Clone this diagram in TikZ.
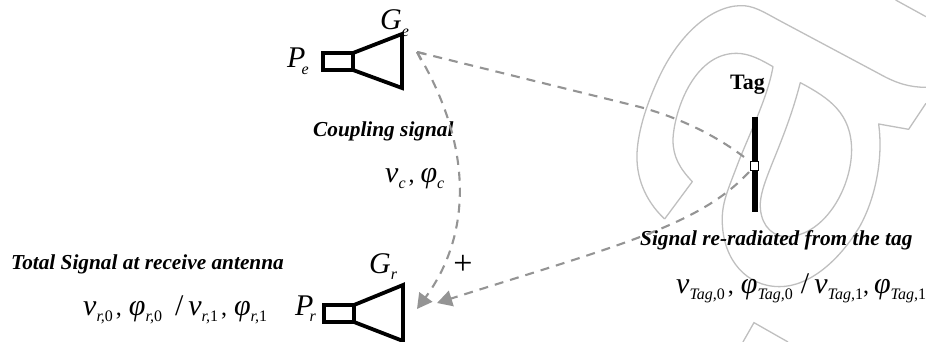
\documentclass[tikz,border=0pt]{standalone}
\usepackage{fontspec}
\usepackage{amsmath}
\setmainfont{Liberation Serif}
\usetikzlibrary{arrows.meta}
\tikzset{
  ant/.style={line width=3.8pt,draw=black,miter limit=10},
  sig/.style={draw=black!42,line width=2.1pt,dash pattern=on 9pt off 7pt},
  fillhead/.style={-{Triangle[length=15pt,width=16pt,fill=black!42,color=black!42]}},
  wm/.style={draw=black!25,line width=1.3pt},
  sym/.style={inner sep=0pt,font=\fontsize{30}{30}\selectfont\itshape,anchor=base west},
  capt/.style={inner sep=0pt,font=\fontsize{21.3}{21.3}\selectfont\bfseries\itshape,anchor=base west},
}
\newcommand{\sbs}[1]{\raisebox{-6.5pt}{\fontsize{16}{16}\selectfont\itshape #1}}
\newcommand{\cma}{\raisebox{0pt}{\upshape\fontsize{24}{24}\selectfont ,}}
\begin{document}
\begin{tikzpicture}[x=1pt,y=-1pt]
\useasboundingbox (0,0) rectangle (926,342);
% watermark
\begin{scope}[shift={(463,0)},x=0.3333pt,y=-0.3333pt]
\draw[wm,line join=round] (605,657) -- (688,545)
  .. controls (650,505) and (630,470) .. (630,420)
  .. controls (632,340) and (690,160) .. (820,160)
  .. controls (860,160) and (895,180) .. (930,200)
  .. controls (915,290) and (860,400) .. (825,490)
  .. controls (795,570) and (775,610) .. (778,670)
  .. controls (782,780) and (850,860) .. (950,860)
  .. controls (1040,860) and (1130,780) .. (1190,680)
  .. controls (1235,600) and (1262,480) .. (1247,372)
  -- (1337,388) -- (1389,310);
\draw[wm] (1389,262) .. controls (1340,262) and (1300,250) .. (1250,222)
  -- (950,62) .. controls (900,35) and (870,15) .. (830,17)
  .. controls (740,20) and (640,110) .. (580,250)
  .. controls (540,340) and (520,420) .. (522,480)
  .. controls (525,560) and (565,620) .. (605,657);
\draw[wm,line join=round] (1012,248)
  .. controls (1100,295) and (1165,340) .. (1166,450)
  .. controls (1165,570) and (1080,710) .. (970,710)
  .. controls (915,708) and (890,660) .. (892,610)
  .. controls (895,540) and (965,430) .. (1012,248) -- cycle;
\draw[wm] (1298,0) -- (1389,50);
\draw[wm] (840,1026) -- (873,968) -- (975,1026);
\end{scope}
% antennas
\node[sym] (Pe) at (287,68) {P\hspace{-4pt}\sbs{e}};
\node[sym] (Ge) at (380,30) {G\sbs{e}};
\coordinate (a1) at (323,53); \coordinate (a2) at (353,53);
\coordinate (a4) at (353,70);
\coordinate (a5) at (402,34); \coordinate (a6) at (402,88);
\draw[ant] (a1) rectangle (a4);
\draw[ant] (a2) -- (a5) -- (a6) -- (a4);
\node[sym] (Pr) at (295,315) {P\hspace{-4pt}\sbs{r}};
\node[sym] (Gr) at (369,273) {G\sbs{r}};
\coordinate (b1) at (324,305); \coordinate (b2) at (354,305);
\coordinate (b4) at (354,322);
\coordinate (b5) at (403,285); \coordinate (b6) at (403,341);
\draw[ant] (b1) rectangle (b4);
\draw[ant] (b2) -- (b5) -- (b6) -- (b4);
% tag
\node[draw=none,fill=black,inner sep=0pt,minimum width=6pt,minimum height=95pt] (bar) at (754.5,164.5) {};
\node[draw=black,fill=white,line width=1.4pt,inner sep=0pt,minimum size=8.5pt] (port) at (754.5,166) {};
% texts
\node[inner sep=0pt,anchor=base west,font=\fontsize{22}{22}\selectfont\bfseries] (tag) at (730,90) {Tag};
\node[capt] (coup) at (313,136) {Coupling signal};
\node[capt] (tot) at (11,269) {Total Signal at receive antenna};
\node[capt] (sigt) at (640,245) {Signal re-radiated from the tag};
\node[sym] (vc) at (385,182) {v\sbs{c}\hspace{3pt}\cma\hspace{1pt}\,φ\sbs{c}};
\node[sym] (vr) at (83,315) {v\sbs{r,\upshape 0}\hspace{3pt}\cma\hspace{2pt}\,φ\sbs{r,\upshape 0}\hspace{8pt}\,{\upshape /}\,v\sbs{r,\upshape 1}\hspace{3pt}\cma\hspace{2pt}\,φ\sbs{r,\upshape 1}};
\node[sym] (vt) at (676,293) {v\sbs{Tag,\upshape 0}\hspace{3pt}\cma\hspace{2pt}\,φ\sbs{Tag,\upshape 0}\hspace{3pt}\,{\upshape /}\,v\sbs{Tag,\upshape 1}\cma\,φ\sbs{Tag,\upshape 1}};
\node[inner sep=0pt,font=\fontsize{34}{34}\selectfont] (plus) at (463,265) {+};
% signals
\coordinate (ge) at (417,52);
\coordinate (rx1) at (417,309);
\coordinate (rx2) at (437,303);
\coordinate (t1) at (744,157);
\coordinate (t2) at (749,172);
\draw[sig] (t1) .. controls (715,135) and (680,118) .. (640,107) -- (ge);
\draw[sig,dash pattern=on 5pt off 0pt] (ge) -- ++(4,8);
\draw[sig,dash pattern=on 5pt off 0pt] (ge) -- ++(8,2);
\draw[sig,fillhead] (ge) .. controls (470,140) and (475,230) .. (rx1);
\draw[sig,fillhead] (t2) .. controls (700,225) and (620,245) .. (rx2);
\end{tikzpicture}
\end{document}
